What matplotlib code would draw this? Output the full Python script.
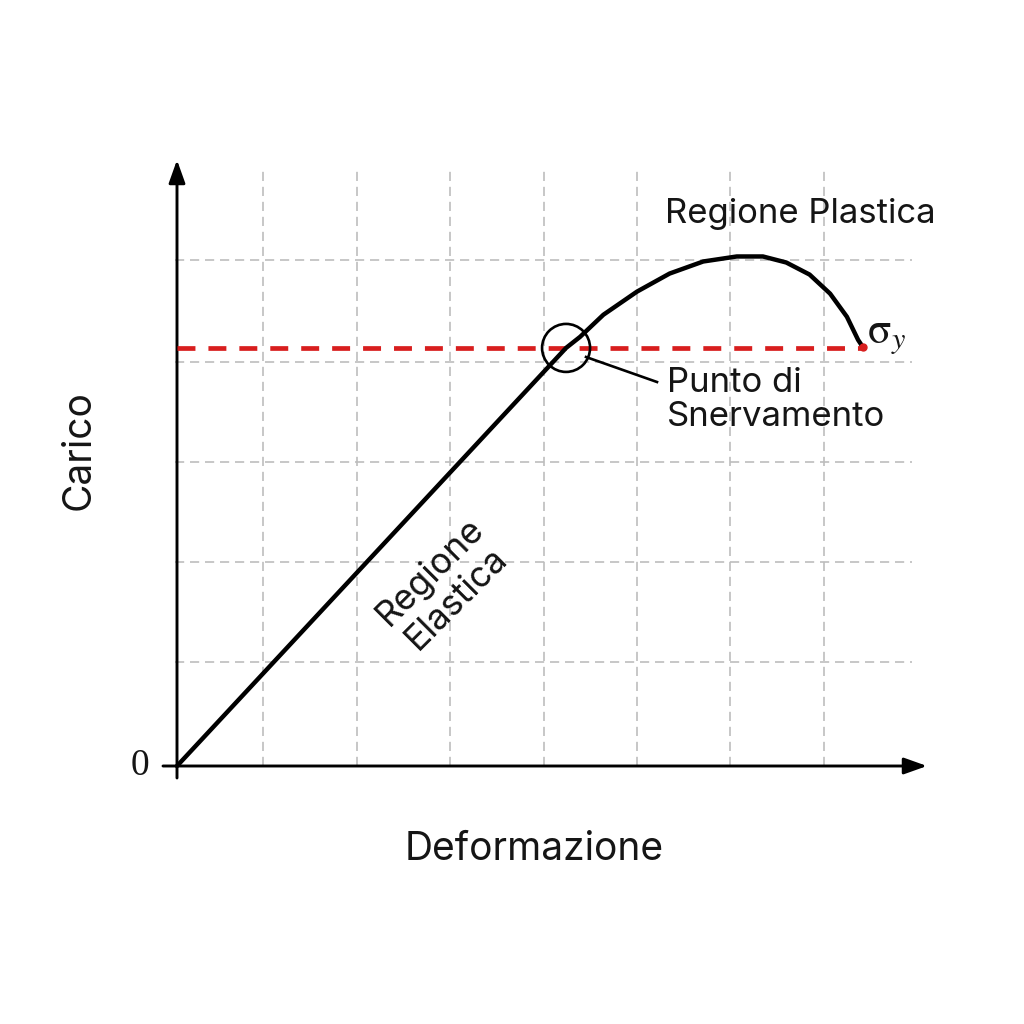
import matplotlib
matplotlib.use("Agg")
import matplotlib.pyplot as plt
from matplotlib.patches import Ellipse

# ---- data (arbitrary units) ----
curve_x = [0.0, 4.17, 4.32, 4.57, 4.93, 5.28, 5.64, 6.00, 6.28, 6.53,
           6.78, 7.00, 7.18, 7.30, 7.35]
curve_y = [0.0, 4.16, 4.27, 4.49, 4.72, 4.90, 5.02, 5.07, 5.07, 5.01,
           4.89, 4.70, 4.47, 4.24, 4.17]
yield_stress = 4.16
yield_point = (4.17, 4.16)
grid_x = [0.92, 1.93, 2.93, 3.93, 4.93, 5.93, 6.93]
grid_y = [1.03, 2.03, 3.02, 4.02, 5.03]

PX_X = 93.3   # pixels per x unit
PX_Y = 100.5  # pixels per y unit
X0, Y0 = 177, 766

fig = plt.figure(figsize=(10.24, 10.24), dpi=100)
ax = fig.add_axes([0, 0, 1, 1])
ax.set_xlim(-X0 / PX_X, (1024 - X0) / PX_X)
ax.set_ylim((Y0 - 1024) / PX_Y, Y0 / PX_Y)
ax.axis("off")

FONT = "Inter"
TXT = "#151515"
grid_kw = dict(color="#bdbdbd", lw=1.2, linestyle=(0, (5.5, 3.5)), zorder=1)
y_top_grid = (Y0 - 170) / PX_Y
x_right_grid = (912 - X0) / PX_X
for gx in grid_x:
    ax.plot([gx, gx], [0, y_top_grid], **grid_kw)
for gy in grid_y:
    ax.plot([-0.02, x_right_grid], [gy, gy], **grid_kw)

# axes with arrows
ax_kw = dict(arrowprops=dict(arrowstyle="-|>,head_length=1.4,head_width=0.5",
                             color="black", lw=2.1, shrinkA=0, shrinkB=0))
ax.annotate("", xy=(0, (Y0 - 160) / PX_Y), xytext=(0, -12 / PX_Y), **ax_kw)
ax.annotate("", xy=((927 - X0) / PX_X, 0), xytext=(-14 / PX_X, 0), **ax_kw)

# yield dashed line
ax.plot([0, curve_x[-1]], [yield_stress, yield_stress], color="#d81e1e",
        lw=3.4, linestyle=(0, (3.8, 2.75)), zorder=3)

# curve
ax.plot(curve_x, curve_y, color="black", lw=3.2, solid_capstyle="round",
        solid_joinstyle="round", zorder=4)
ax.plot([curve_x[-1]], [curve_y[-1]], "o", color="#d81e1e", ms=5, zorder=5)

# yield circle
ax.add_patch(Ellipse(yield_point, 2 * 24 / PX_X, 2 * 24 / PX_Y, fill=False,
                     ec="black", lw=1.9, zorder=6))
ax.plot([(586 - X0) / PX_X, (657 - X0) / PX_X],
        [(Y0 - 357) / PX_Y, (Y0 - 382) / PX_Y], color="black", lw=1.9, zorder=6)

# texts
ax.text((667 - X0) / PX_X, (Y0 - 400) / PX_Y, "Punto di\nSnervamento", family=FONT,
        fontsize=25, ha="left", va="center", color=TXT, linespacing=1.05)
ax.text((800 - X0) / PX_X, (Y0 - 214) / PX_Y, "Regione Plastica", family=FONT,
        fontsize=25, ha="center", va="center", color=TXT)
ax.text((443 - X0) / PX_X, (Y0 - 585) / PX_Y, "Regione\nElastica", family=FONT,
        fontsize=25.5, ha="center", va="center", rotation=45, rotation_mode="anchor",
        color=TXT, linespacing=1.15)
ax.text((534 - X0) / PX_X, (Y0 - 849) / PX_Y, "Deformazione", family=FONT,
        fontsize=28, ha="center", va="center", color=TXT)
ax.text((79 - X0) / PX_X, (Y0 - 450) / PX_Y, "Carico", family=FONT,
        fontsize=28, ha="center", va="center", rotation=90, color=TXT)
ax.text((140 - X0) / PX_X, 0, "0", family="Liberation Serif", fontsize=27,
        ha="center", va="center", color=TXT)
ax.text((867 - X0) / PX_X, (Y0 - 336) / PX_Y, r"$\mathrm{σ}_{y}$", fontsize=31,
        math_fontfamily="stix", ha="left", va="center", color=TXT)

fig.savefig("out.png", dpi=100, facecolor="white")
